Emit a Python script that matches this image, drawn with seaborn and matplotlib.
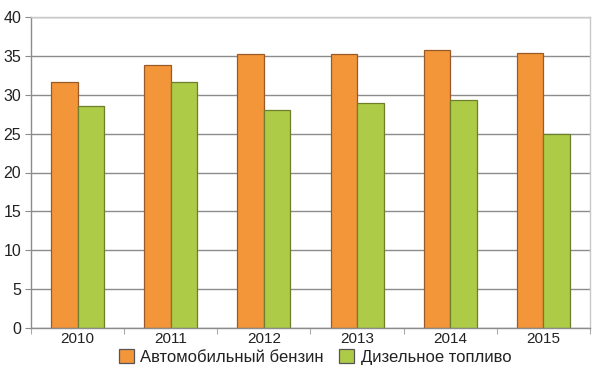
import matplotlib
matplotlib.use("Agg")
import matplotlib.pyplot as plt
import seaborn as sns
import pandas as pd
import numpy as np
from matplotlib.patches import Patch

years = ["2010", "2011", "2012", "2013", "2014", "2015"]
gasoline = [31.6, 33.8, 35.2, 35.3, 35.7, 35.4]
diesel = [28.5, 31.6, 28.1, 28.9, 29.3, 25.0]
series_names = ["Автомобильный бензин", "Дизельное топливо"]
yticks = [0, 5, 10, 15, 20, 25, 30, 35, 40]

sns.set_theme(style="white")
plt.rcParams['font.family'] = ['Liberation Sans', 'DejaVu Sans']

df = pd.DataFrame({
    "year": years * 2,
    "value": gasoline + diesel,
    "series": [series_names[0]] * len(years) + [series_names[1]] * len(years),
})

colors = ["#F39539", "#AECB48"]
edges = ["#9A5A28", "#6E7F2C"]

fig = plt.figure(figsize=(6.03, 3.80), dpi=100)
ax = fig.add_axes([31/603, 52/380, 559/603, 311/380])
sns.barplot(data=df, x="year", y="value", hue="series", palette=colors,
            width=0.57, ax=ax, legend=False, saturation=1)
for cont, ec in zip(ax.containers, edges):
    for p in cont:
        p.set_edgecolor(ec)
        p.set_linewidth(0.9)

ax.set_ylim(0, 40)
ax.set_xlim(-0.5, len(years) - 0.5)
ax.set_yticks(yticks)
ax.yaxis.grid(True, color="#8C8C8C", linewidth=1.0)
ax.set_axisbelow(True)
ax.set_xlabel("")
ax.set_ylabel("")
ax.tick_params(axis="y", which="major", length=4, width=0.8, color="#8C8C8C",
               labelsize=11.5, pad=3, left=True)
ax.tick_params(axis="x", which="major", length=0, labelsize=11, pad=3)
ax.set_xticks(np.arange(-0.5, len(years), 1.0), minor=True)
ax.tick_params(axis="x", which="minor", length=4, width=0.8, color="#AAAAAA", bottom=True)
for s in ["left", "bottom"]:
    ax.spines[s].set_color("#8C8C8C")
    ax.spines[s].set_linewidth(1.0)
for s in ["top", "right"]:
    ax.spines[s].set_color("#C8C8C8")
    ax.spines[s].set_linewidth(1.0)
for lbl in ax.get_yticklabels() + ax.get_xticklabels():
    lbl.set_color("#222222")

handles = [Patch(facecolor=c, edgecolor="#555555", linewidth=0.9) for c in colors]
fig.legend(handles, series_names, loc="center", bbox_to_anchor=(315/603, 1 - 357/380),
           ncol=2, frameon=False, fontsize=12, handlelength=0.9, handleheight=0.9,
           handletextpad=0.4, columnspacing=0.9, labelcolor="#222222")

fig.savefig("out.png", dpi=100)
